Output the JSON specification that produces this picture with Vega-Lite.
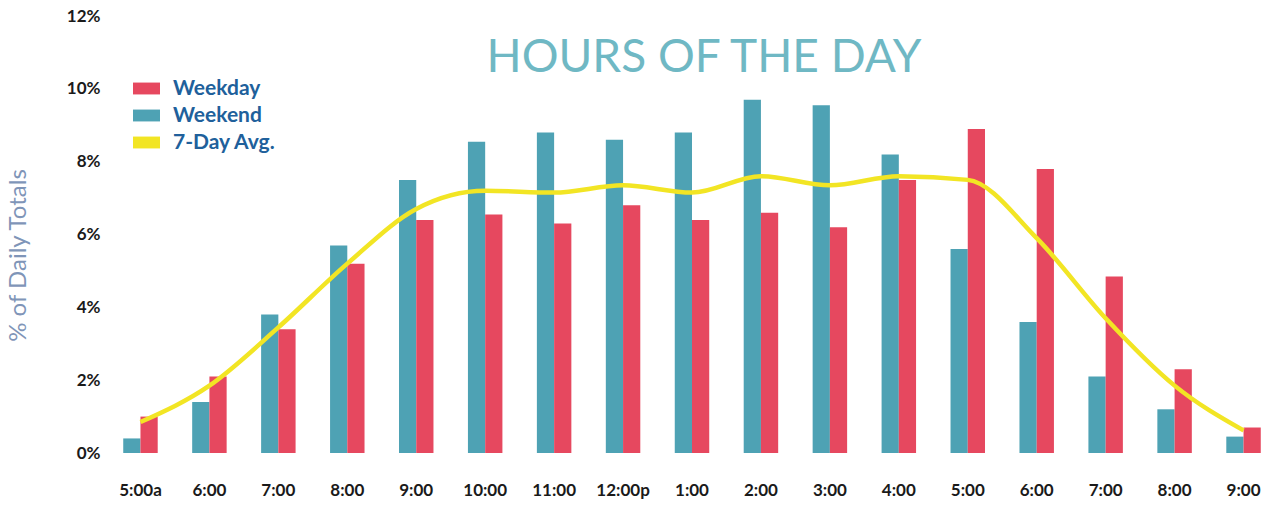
{
  "$schema": "https://vega.github.io/schema/vega-lite/v6.json",
  "autosize": {"type": "none"},
  "padding": {"left": 106, "top": 16, "right": 0, "bottom": 57},
  "width": 1172,
  "height": 437,
  "background": "white",
  "title": {
    "text": "HOURS OF THE DAY",
    "anchor": "middle",
    "orient": "top",
    "offset": 0,
    "dy": 111,
    "dx": 12,
    "baseline": "alphabetic",
    "font": "Lato",
    "fontSize": 46,
    "fontWeight": "normal",
    "color": "#6fb8c4"
  },
  "datasets": {
    "bars": [
      {"h": 5, "type": "Weekend", "value": 0.4}, {"h": 5, "type": "Weekday", "value": 1.0},
      {"h": 6, "type": "Weekend", "value": 1.4}, {"h": 6, "type": "Weekday", "value": 2.1},
      {"h": 7, "type": "Weekend", "value": 3.8}, {"h": 7, "type": "Weekday", "value": 3.4},
      {"h": 8, "type": "Weekend", "value": 5.7}, {"h": 8, "type": "Weekday", "value": 5.2},
      {"h": 9, "type": "Weekend", "value": 7.5}, {"h": 9, "type": "Weekday", "value": 6.4},
      {"h": 10, "type": "Weekend", "value": 8.55}, {"h": 10, "type": "Weekday", "value": 6.55},
      {"h": 11, "type": "Weekend", "value": 8.8}, {"h": 11, "type": "Weekday", "value": 6.3},
      {"h": 12, "type": "Weekend", "value": 8.6}, {"h": 12, "type": "Weekday", "value": 6.8},
      {"h": 13, "type": "Weekend", "value": 8.8}, {"h": 13, "type": "Weekday", "value": 6.4},
      {"h": 14, "type": "Weekend", "value": 9.7}, {"h": 14, "type": "Weekday", "value": 6.6},
      {"h": 15, "type": "Weekend", "value": 9.55}, {"h": 15, "type": "Weekday", "value": 6.2},
      {"h": 16, "type": "Weekend", "value": 8.2}, {"h": 16, "type": "Weekday", "value": 7.5},
      {"h": 17, "type": "Weekend", "value": 5.6}, {"h": 17, "type": "Weekday", "value": 8.9},
      {"h": 18, "type": "Weekend", "value": 3.6}, {"h": 18, "type": "Weekday", "value": 7.8},
      {"h": 19, "type": "Weekend", "value": 2.1}, {"h": 19, "type": "Weekday", "value": 4.85},
      {"h": 20, "type": "Weekend", "value": 1.2}, {"h": 20, "type": "Weekday", "value": 2.3},
      {"h": 21, "type": "Weekend", "value": 0.45}, {"h": 21, "type": "Weekday", "value": 0.7}
    ],
    "avg": [
      {"h": 5, "value": 0.85}, {"h": 6, "value": 1.85}, {"h": 7, "value": 3.45},
      {"h": 8, "value": 5.2}, {"h": 9, "value": 6.7}, {"h": 10, "value": 7.2},
      {"h": 11, "value": 7.15}, {"h": 12, "value": 7.35}, {"h": 13, "value": 7.15},
      {"h": 14, "value": 7.6}, {"h": 15, "value": 7.35}, {"h": 16, "value": 7.6},
      {"h": 17, "value": 7.5}, {"h": 18, "value": 5.9}, {"h": 19, "value": 3.7},
      {"h": 20, "value": 1.85}, {"h": 21, "value": 0.62}
    ]
  },
  "config": {
    "view": {"stroke": null},
    "axis": {"grid": false, "domain": false, "ticks": false}
  },
  "encoding": {
    "x": {
      "field": "h",
      "type": "ordinal",
      "scale": {"paddingInner": 0.5, "paddingOuter": 0.25},
      "axis": {
        "title": null,
        "labelAngle": 0,
        "labelPadding": 29,
        "labelFont": "Lato",
        "labelFontWeight": "bold",
        "labelFontSize": 17,
        "labelColor": "#1a1a1a",
        "labelExpr": "datum.value == 5 ? '5:00a' : datum.value == 12 ? '12:00p' : (datum.value > 12 ? datum.value - 12 : datum.value) + ':00'"
      }
    },
    "y": {
      "field": "value",
      "type": "quantitative",
      "scale": {"domain": [0, 12], "nice": false},
      "axis": {
        "values": [0, 2, 4, 6, 8, 10, 12],
        "labelExpr": "datum.value + '%'",
        "labelPadding": 6,
        "labelFont": "Lato",
        "labelFontWeight": "bold",
        "labelFontSize": 17,
        "labelColor": "#1a1a1a",
        "title": "% of Daily Totals",
        "titleFont": "Lato",
        "titleFontWeight": "normal",
        "titleFontSize": 24,
        "titleColor": "#7f95b8",
        "titleX": -88,
        "titleY": 239,
        "titleAlign": "center",
        "titleBaseline": "middle",
        "titleAngle": -90
      }
    }
  },
  "layer": [
    {
      "data": {"name": "bars"},
      "mark": {"type": "bar"},
      "encoding": {
        "xOffset": {"field": "type", "type": "nominal", "sort": ["Weekend", "Weekday"], "scale": {"paddingInner": 0, "paddingOuter": 0}},
        "color": {
          "field": "type",
          "type": "nominal",
          "scale": {"domain": ["Weekday", "Weekend", "7-Day Avg."], "range": ["#e6485f", "#4ea2b4", "#f2e524"]},
          "legend": {
            "title": null,
            "orient": "none",
            "legendX": 27,
            "legendY": 59,
            "symbolType": "M-1,-0.44L1,-0.44L1,0.44L-1,0.44Z",
            "symbolSize": 728,
            "symbolStrokeWidth": 0,
            "symbolOpacity": 1,
            "labelFont": "Lato",
            "labelFontWeight": "bold",
            "labelFontSize": 21,
            "labelColor": "#20609b",
            "labelOffset": 13,
            "rowPadding": 3
          }
        }
      }
    },
    {
      "data": {"name": "avg"},
      "mark": {"type": "line", "color": "#f2e524", "strokeWidth": 4.5, "interpolate": "monotone"},
      "encoding": {}
    }
  ]
}
